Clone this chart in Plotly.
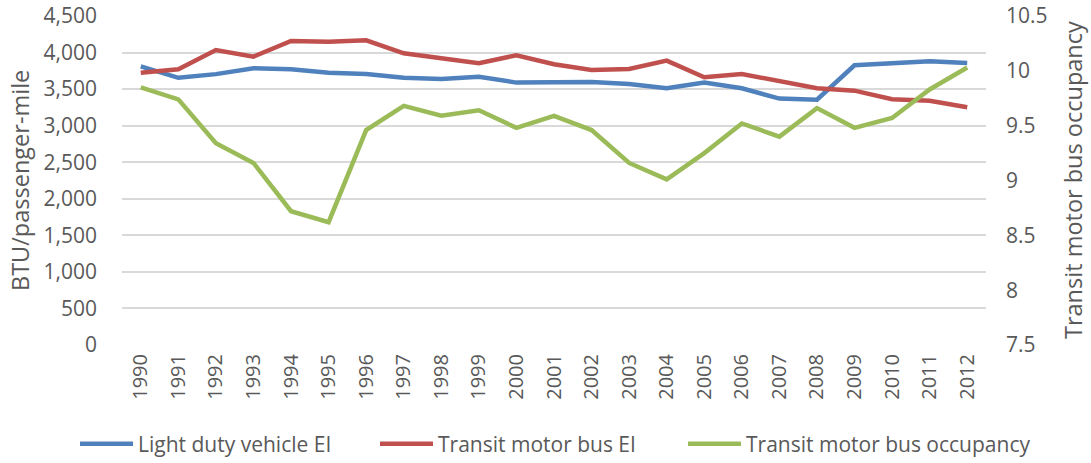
import plotly.graph_objects as go

years = [str(y) for y in range(1990, 2013)]
ldv_ei = [3810, 3655, 3705, 3785, 3770, 3725, 3705, 3657, 3639, 3670, 3589, 3598, 3598,
          3571, 3511, 3589, 3511, 3370, 3356, 3826, 3853, 3881, 3858]
bus_ei = [3725, 3771, 4035, 3944, 4159, 4149, 4168, 3990, 3922, 3853, 3963, 3840, 3762,
          3776, 3890, 3662, 3707, 3602, 3511, 3479, 3361, 3342, 3251]
bus_occ = [9.85, 9.74, 9.34, 9.16, 8.72, 8.62, 9.46, 9.68, 9.59, 9.64, 9.48, 9.59, 9.46,
           9.16, 9.01, 9.25, 9.52, 9.40, 9.66, 9.48, 9.57, 9.83, 10.03]

left_ticks = list(range(0, 4501, 500))
right_ticks = [7.5, 8, 8.5, 9, 9.5, 10, 10.5]

FONT = "Open Sans"
GRAY = "#595959"

L, R, T, B = 122, 105, 16, 118
W, H = 1091, 463
PW = W - L - R
PH = H - T - B


def px_x(x):
    return (x - L) / PW


def px_y(y):
    return (H - B - y) / PH


fig = go.Figure()
fig.add_trace(go.Scatter(x=years, y=ldv_ei, name="Light duty vehicle EI", mode="lines",
                         line=dict(color="#4f81bd", width=4.5), legend="legend"))
fig.add_trace(go.Scatter(x=years, y=bus_ei, name="Transit motor bus EI", mode="lines",
                         line=dict(color="#c0504d", width=4.5), legend="legend2"))
fig.add_trace(go.Scatter(x=years, y=bus_occ, name="Transit motor bus occupancy", mode="lines",
                         line=dict(color="#9bbb59", width=4.5), yaxis="y2", legend="legend3"))


def leg(xpx):
    return dict(orientation="h", x=px_x(xpx), xanchor="left", y=px_y(444), yanchor="middle",
                font=dict(family=FONT, size=21, color=GRAY), itemwidth=53,
                bgcolor="rgba(0,0,0,0)")


fig.update_layout(
    width=W, height=H,
    margin=dict(l=L, r=R, t=T, b=B, autoexpand=False),
    paper_bgcolor="white", plot_bgcolor="white",
    font=dict(family=FONT, size=21, color=GRAY),
    showlegend=True,
    legend=leg(75), legend2=leg(375), legend3=leg(683),
    xaxis=dict(type="category", range=[-0.5, 22.5], tickangle=-90, showgrid=False, showline=False,
               ticks="", tickfont=dict(family=FONT, size=20, color=GRAY), ticklabelstandoff=4),
    yaxis=dict(range=[0, 4500], tickvals=left_ticks, tickformat=",d",
               showgrid=True, gridcolor="#d9d9d9", gridwidth=2, zeroline=False,
               showline=False, ticks="", ticklabelstandoff=24,
               tickfont=dict(family=FONT, size=21, color=GRAY)),
    yaxis2=dict(range=[7.5, 10.5], tickvals=right_ticks, overlaying="y", side="right",
                showgrid=False, zeroline=False, showline=False, ticks="", ticklabelstandoff=19,
                tickfont=dict(family=FONT, size=21, color=GRAY)),
    annotations=[
        dict(text="BTU/passenger-mile", textangle=-90, xref="paper", yref="paper",
             x=px_x(20), y=px_y(181), xanchor="center", yanchor="middle", showarrow=False,
             font=dict(family=FONT, size=23.5, color=GRAY)),
        dict(text="Transit motor bus occupancy", textangle=-90, xref="paper", yref="paper",
             x=px_x(1073), y=px_y(180), xanchor="center", yanchor="middle", showarrow=False,
             font=dict(family=FONT, size=23.5, color=GRAY)),
    ],
)

fig.write_html("out.html", config={"displayModeBar": False},
               post_script="document.body.style.margin='0';")
